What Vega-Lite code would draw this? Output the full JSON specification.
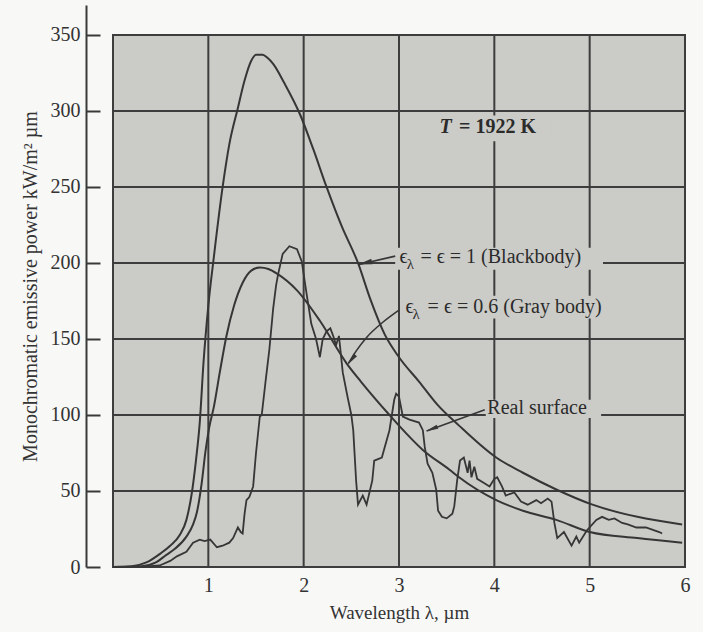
{
  "$schema": "https://vega.github.io/schema/vega-lite/v6.json",
  "width": 572,
  "height": 562,
  "autosize": {"type": "none"},
  "padding": {"left": 113, "top": 5, "right": 18, "bottom": 65},
  "background": "#f8f8f6",
  "config": {"view": {"stroke": null}, "font": "Liberation Serif",
    "axis": {"labelFont": "Liberation Serif", "titleFont": "Liberation Serif"}},
  "datasets": {
    "frame": [{"x0": 0, "x1": 6, "y0": 0, "y1": 350}],
    "gridx": [{"g": 1}, {"g": 2}, {"g": 3}, {"g": 4}, {"g": 5}],
    "gridy": [{"g": 50}, {"g": 100}, {"g": 150}, {"g": 200}, {"g": 250}, {"g": 300}],
    "boxes": [
      {"x0": 3.38, "x1": 4.6, "y0": 280, "y1": 297},
      {"x0": 2.96, "x1": 5.14, "y0": 195.5, "y1": 210},
      {"x0": 3.05, "x1": 5.38, "y0": 163.5, "y1": 178.5},
      {"x0": 3.91, "x1": 5.12, "y0": 98, "y1": 110}
    ],
    "smooth": [
      {"s": "Blackbody", "x": 0, "y": 0}, {"s": "Blackbody", "x": 0.2, "y": 0.5}, {"s": "Blackbody", "x": 0.35, "y": 3},
      {"s": "Blackbody", "x": 0.5, "y": 9}, {"s": "Blackbody", "x": 0.6, "y": 14}, {"s": "Blackbody", "x": 0.7, "y": 21},
      {"s": "Blackbody", "x": 0.77, "y": 31}, {"s": "Blackbody", "x": 0.83, "y": 50}, {"s": "Blackbody", "x": 0.87, "y": 70},
      {"s": "Blackbody", "x": 0.91, "y": 95}, {"s": "Blackbody", "x": 0.95, "y": 135}, {"s": "Blackbody", "x": 1.0, "y": 172},
      {"s": "Blackbody", "x": 1.06, "y": 205}, {"s": "Blackbody", "x": 1.15, "y": 250}, {"s": "Blackbody", "x": 1.22, "y": 278},
      {"s": "Blackbody", "x": 1.31, "y": 302}, {"s": "Blackbody", "x": 1.38, "y": 320}, {"s": "Blackbody", "x": 1.45, "y": 333},
      {"s": "Blackbody", "x": 1.5, "y": 337}, {"s": "Blackbody", "x": 1.57, "y": 337}, {"s": "Blackbody", "x": 1.62, "y": 335},
      {"s": "Blackbody", "x": 1.68, "y": 331}, {"s": "Blackbody", "x": 1.8, "y": 318}, {"s": "Blackbody", "x": 1.96, "y": 298},
      {"s": "Blackbody", "x": 2.1, "y": 275}, {"s": "Blackbody", "x": 2.24, "y": 250}, {"s": "Blackbody", "x": 2.4, "y": 224},
      {"s": "Blackbody", "x": 2.57, "y": 200}, {"s": "Blackbody", "x": 2.7, "y": 176}, {"s": "Blackbody", "x": 2.85, "y": 153},
      {"s": "Blackbody", "x": 3.0, "y": 138}, {"s": "Blackbody", "x": 3.21, "y": 122}, {"s": "Blackbody", "x": 3.4, "y": 107},
      {"s": "Blackbody", "x": 3.63, "y": 93}, {"s": "Blackbody", "x": 4.02, "y": 72}, {"s": "Blackbody", "x": 4.3, "y": 62},
      {"s": "Blackbody", "x": 4.65, "y": 51}, {"s": "Blackbody", "x": 5.03, "y": 41}, {"s": "Blackbody", "x": 5.5, "y": 33},
      {"s": "Blackbody", "x": 5.97, "y": 28},
      {"s": "Gray body", "x": 0, "y": 0}, {"s": "Gray body", "x": 0.3, "y": 0.5}, {"s": "Gray body", "x": 0.45, "y": 3},
      {"s": "Gray body", "x": 0.56, "y": 8}, {"s": "Gray body", "x": 0.65, "y": 12}, {"s": "Gray body", "x": 0.77, "y": 20},
      {"s": "Gray body", "x": 0.84, "y": 28}, {"s": "Gray body", "x": 0.88, "y": 36}, {"s": "Gray body", "x": 0.93, "y": 55},
      {"s": "Gray body", "x": 0.97, "y": 76}, {"s": "Gray body", "x": 1.01, "y": 92}, {"s": "Gray body", "x": 1.06, "y": 106},
      {"s": "Gray body", "x": 1.12, "y": 128}, {"s": "Gray body", "x": 1.19, "y": 152}, {"s": "Gray body", "x": 1.27, "y": 172},
      {"s": "Gray body", "x": 1.36, "y": 187}, {"s": "Gray body", "x": 1.45, "y": 195}, {"s": "Gray body", "x": 1.54, "y": 197},
      {"s": "Gray body", "x": 1.63, "y": 196}, {"s": "Gray body", "x": 1.72, "y": 193}, {"s": "Gray body", "x": 1.93, "y": 182},
      {"s": "Gray body", "x": 2.17, "y": 162}, {"s": "Gray body", "x": 2.45, "y": 134}, {"s": "Gray body", "x": 2.6, "y": 122},
      {"s": "Gray body", "x": 2.9, "y": 100}, {"s": "Gray body", "x": 3.0, "y": 93}, {"s": "Gray body", "x": 3.25, "y": 77},
      {"s": "Gray body", "x": 3.53, "y": 64}, {"s": "Gray body", "x": 3.63, "y": 59}, {"s": "Gray body", "x": 4.02, "y": 44},
      {"s": "Gray body", "x": 4.3, "y": 37}, {"s": "Gray body", "x": 4.65, "y": 31}, {"s": "Gray body", "x": 5.0, "y": 23},
      {"s": "Gray body", "x": 5.5, "y": 19}, {"s": "Gray body", "x": 5.97, "y": 16}
    ],
    "real": [
      {"x": 0.3, "y": 0}, {"x": 0.49, "y": 1}, {"x": 0.6, "y": 4}, {"x": 0.67, "y": 7}, {"x": 0.77, "y": 10},
      {"x": 0.84, "y": 16}, {"x": 0.91, "y": 18}, {"x": 0.96, "y": 17}, {"x": 1.02, "y": 18}, {"x": 1.09, "y": 13},
      {"x": 1.15, "y": 14}, {"x": 1.22, "y": 16}, {"x": 1.26, "y": 19}, {"x": 1.31, "y": 26}, {"x": 1.34, "y": 23},
      {"x": 1.36, "y": 22}, {"x": 1.38, "y": 35}, {"x": 1.4, "y": 44}, {"x": 1.43, "y": 46}, {"x": 1.47, "y": 53},
      {"x": 1.5, "y": 75}, {"x": 1.54, "y": 99}, {"x": 1.56, "y": 100}, {"x": 1.6, "y": 122}, {"x": 1.64, "y": 143},
      {"x": 1.68, "y": 170}, {"x": 1.71, "y": 185}, {"x": 1.73, "y": 192}, {"x": 1.78, "y": 206}, {"x": 1.85, "y": 211},
      {"x": 1.93, "y": 209}, {"x": 1.98, "y": 201}, {"x": 2.03, "y": 180}, {"x": 2.08, "y": 160}, {"x": 2.13, "y": 150},
      {"x": 2.17, "y": 138}, {"x": 2.2, "y": 150}, {"x": 2.24, "y": 155}, {"x": 2.28, "y": 157}, {"x": 2.31, "y": 152},
      {"x": 2.34, "y": 146}, {"x": 2.37, "y": 152}, {"x": 2.39, "y": 140}, {"x": 2.41, "y": 128}, {"x": 2.46, "y": 112},
      {"x": 2.5, "y": 100}, {"x": 2.52, "y": 90}, {"x": 2.55, "y": 57}, {"x": 2.57, "y": 41}, {"x": 2.62, "y": 47},
      {"x": 2.66, "y": 41}, {"x": 2.72, "y": 57}, {"x": 2.74, "y": 70}, {"x": 2.78, "y": 71}, {"x": 2.82, "y": 72},
      {"x": 2.9, "y": 90}, {"x": 2.95, "y": 110}, {"x": 2.97, "y": 114}, {"x": 3.0, "y": 112}, {"x": 3.04, "y": 99},
      {"x": 3.11, "y": 97}, {"x": 3.21, "y": 95}, {"x": 3.25, "y": 90}, {"x": 3.27, "y": 79}, {"x": 3.3, "y": 68},
      {"x": 3.35, "y": 62}, {"x": 3.39, "y": 51}, {"x": 3.41, "y": 37}, {"x": 3.45, "y": 33}, {"x": 3.5, "y": 32},
      {"x": 3.56, "y": 35}, {"x": 3.58, "y": 40}, {"x": 3.61, "y": 57}, {"x": 3.64, "y": 70}, {"x": 3.68, "y": 72},
      {"x": 3.72, "y": 62}, {"x": 3.74, "y": 70}, {"x": 3.76, "y": 59}, {"x": 3.79, "y": 66}, {"x": 3.82, "y": 58},
      {"x": 3.9, "y": 55}, {"x": 3.95, "y": 53}, {"x": 4.0, "y": 58}, {"x": 4.03, "y": 59}, {"x": 4.08, "y": 53},
      {"x": 4.12, "y": 47}, {"x": 4.16, "y": 48}, {"x": 4.21, "y": 49}, {"x": 4.28, "y": 43}, {"x": 4.35, "y": 41},
      {"x": 4.44, "y": 44}, {"x": 4.49, "y": 42}, {"x": 4.56, "y": 45}, {"x": 4.6, "y": 43}, {"x": 4.63, "y": 29},
      {"x": 4.66, "y": 19}, {"x": 4.73, "y": 23}, {"x": 4.81, "y": 14}, {"x": 4.86, "y": 20}, {"x": 4.89, "y": 16},
      {"x": 4.97, "y": 24}, {"x": 5.07, "y": 31}, {"x": 5.13, "y": 33}, {"x": 5.2, "y": 31}, {"x": 5.26, "y": 32},
      {"x": 5.34, "y": 29}, {"x": 5.4, "y": 28}, {"x": 5.49, "y": 26}, {"x": 5.59, "y": 26}, {"x": 5.73, "y": 23},
      {"x": 5.76, "y": 22}
    ],
    "arrows": [
      {"a": "bb", "x": 2.96, "y": 204.5}, {"a": "bb", "x": 2.58, "y": 199},
      {"a": "gb", "x": 3.0, "y": 169}, {"a": "gb", "x": 2.83, "y": 161}, {"a": "gb", "x": 2.66, "y": 151},
      {"a": "gb", "x": 2.55, "y": 142}, {"a": "gb", "x": 2.47, "y": 134},
      {"a": "rs", "x": 3.9, "y": 103.5}, {"a": "rs", "x": 3.29, "y": 89.5}
    ],
    "headBB": [{"x": 2.57, "y": 199}],
    "headGB": [{"x": 2.46, "y": 133}],
    "headRS": [{"x": 3.28, "y": 89.3}],
    "textsMain": [
      {"x": 3.225, "y": 204, "t": "= ϵ = 1 (Blackbody)"},
      {"x": 3.3, "y": 171, "t": "= ϵ = 0.6 (Gray body)"},
      {"x": 3.927, "y": 104.6, "t": "Real surface"},
      {"x": 3.005, "y": 204, "t": "ϵ"},
      {"x": 3.068, "y": 171, "t": "ϵ"}
    ],
    "textsSub": [
      {"x": 3.08, "y": 199.5, "t": "λ"},
      {"x": 3.141, "y": 166.5, "t": "λ"}
    ],
    "textsT": [{"x": 3.424, "y": 289.5, "t": "T"}],
    "textsTval": [{"x": 3.63, "y": 289.5, "t": "=   1922 K"}]
  },
  "layer": [
    {
      "data": {"name": "frame"},
      "mark": {"type": "rect", "fill": "#cbcbc8", "stroke": "#3d3d3d", "strokeWidth": 2},
      "encoding": {
        "x": {"field": "x0", "type": "quantitative",
          "scale": {"domain": [0, 6], "nice": false, "zero": false},
          "axis": {"title": "Wavelength λ, µm", "values": [1, 2, 3, 4, 5, 6], "format": "d", "domain": false, "ticks": false, "grid": false,
            "labelFlush": false, "labelPadding": 8, "labelFontSize": 20, "labelColor": "#333333", "labelFont": "Liberation Serif",
            "titleFontSize": 19, "titleFontWeight": "normal", "titleColor": "#333333", "titleFont": "Liberation Serif", "titlePadding": 8}},
        "x2": {"field": "x1"},
        "y": {"field": "y0", "type": "quantitative",
          "scale": {"domain": [0, 369.7], "nice": false, "zero": false},
          "axis": {"title": "Monochromatic emissive power  kW/m² µm", "values": [0, 50, 100, 150, 200, 250, 300, 350], "format": "d",
            "offset": 27, "domainColor": "#3a3a3a", "domainWidth": 2, "tickColor": "#3a3a3a", "tickWidth": 2,
            "tickSize": -14, "labelPadding": 20, "labelFontSize": 20, "labelColor": "#333333", "labelFont": "Liberation Serif",
            "titleFontSize": 20, "titleFontWeight": "normal", "titleColor": "#333333", "titleFont": "Liberation Serif",
            "titlePadding": 10, "grid": false}},
        "y2": {"field": "y1"}
      }
    },
    {
      "data": {"name": "gridx"},
      "mark": {"type": "rule", "stroke": "#3d3d3d", "strokeWidth": 2},
      "encoding": {"x": {"field": "g", "type": "quantitative"}, "y": {"datum": 0}, "y2": {"datum": 350}}
    },
    {
      "data": {"name": "gridy"},
      "mark": {"type": "rule", "stroke": "#3d3d3d", "strokeWidth": 2},
      "encoding": {"y": {"field": "g", "type": "quantitative"}, "x": {"datum": 0}, "x2": {"datum": 6}}
    },
    {
      "data": {"name": "boxes"},
      "mark": {"type": "rect", "fill": "#cbcbc8"},
      "encoding": {"x": {"field": "x0", "type": "quantitative"}, "x2": {"field": "x1"},
        "y": {"field": "y0", "type": "quantitative"}, "y2": {"field": "y1"}}
    },
    {
      "data": {"name": "smooth"},
      "mark": {"type": "line", "stroke": "#363636", "strokeWidth": 2, "interpolate": "monotone"},
      "encoding": {"x": {"field": "x", "type": "quantitative"}, "y": {"field": "y", "type": "quantitative"},
        "detail": {"field": "s"}}
    },
    {
      "data": {"name": "real"},
      "mark": {"type": "line", "stroke": "#363636", "strokeWidth": 1.8, "interpolate": "linear"},
      "encoding": {"x": {"field": "x", "type": "quantitative"}, "y": {"field": "y", "type": "quantitative"}}
    },
    {
      "data": {"name": "arrows"},
      "mark": {"type": "line", "stroke": "#363636", "strokeWidth": 1.6, "interpolate": "monotone"},
      "encoding": {"x": {"field": "x", "type": "quantitative"}, "y": {"field": "y", "type": "quantitative"},
        "detail": {"field": "a"}}
    },
    {
      "data": {"name": "headBB"},
      "mark": {"type": "point", "shape": "M0,0L0.4,2L-0.4,2Z", "filled": true, "fill": "#363636", "opacity": 1, "size": 200, "angle": 258},
      "encoding": {"x": {"field": "x", "type": "quantitative"}, "y": {"field": "y", "type": "quantitative"}}
    },
    {
      "data": {"name": "headGB"},
      "mark": {"type": "point", "shape": "M0,0L0.35,2L-0.35,2Z", "filled": true, "fill": "#363636", "opacity": 1, "size": 160, "angle": 218},
      "encoding": {"x": {"field": "x", "type": "quantitative"}, "y": {"field": "y", "type": "quantitative"}}
    },
    {
      "data": {"name": "headRS"},
      "mark": {"type": "point", "shape": "M0,0L0.35,2L-0.35,2Z", "filled": true, "fill": "#363636", "opacity": 1, "size": 160, "angle": 249},
      "encoding": {"x": {"field": "x", "type": "quantitative"}, "y": {"field": "y", "type": "quantitative"}}
    },
    {
      "data": {"name": "textsMain"},
      "mark": {"type": "text", "align": "left", "baseline": "middle", "font": "Liberation Serif", "fontSize": 20, "fill": "#2b2b2b"},
      "encoding": {"x": {"field": "x", "type": "quantitative"}, "y": {"field": "y", "type": "quantitative"}, "text": {"field": "t"}}
    },
    {
      "data": {"name": "textsSub"},
      "mark": {"type": "text", "align": "left", "baseline": "middle", "font": "Liberation Serif", "fontSize": 15, "fill": "#2b2b2b"},
      "encoding": {"x": {"field": "x", "type": "quantitative"}, "y": {"field": "y", "type": "quantitative"}, "text": {"field": "t"}}
    },
    {
      "data": {"name": "textsT"},
      "mark": {"type": "text", "align": "left", "baseline": "middle", "font": "Liberation Serif", "fontSize": 20, "fontWeight": "bold", "fontStyle": "italic", "fill": "#2b2b2b"},
      "encoding": {"x": {"field": "x", "type": "quantitative"}, "y": {"field": "y", "type": "quantitative"}, "text": {"field": "t"}}
    },
    {
      "data": {"name": "textsTval"},
      "mark": {"type": "text", "align": "left", "baseline": "middle", "font": "Liberation Serif", "fontSize": 20, "fontWeight": "bold", "fill": "#2b2b2b"},
      "encoding": {"x": {"field": "x", "type": "quantitative"}, "y": {"field": "y", "type": "quantitative"}, "text": {"field": "t"}}
    }
  ]
}
